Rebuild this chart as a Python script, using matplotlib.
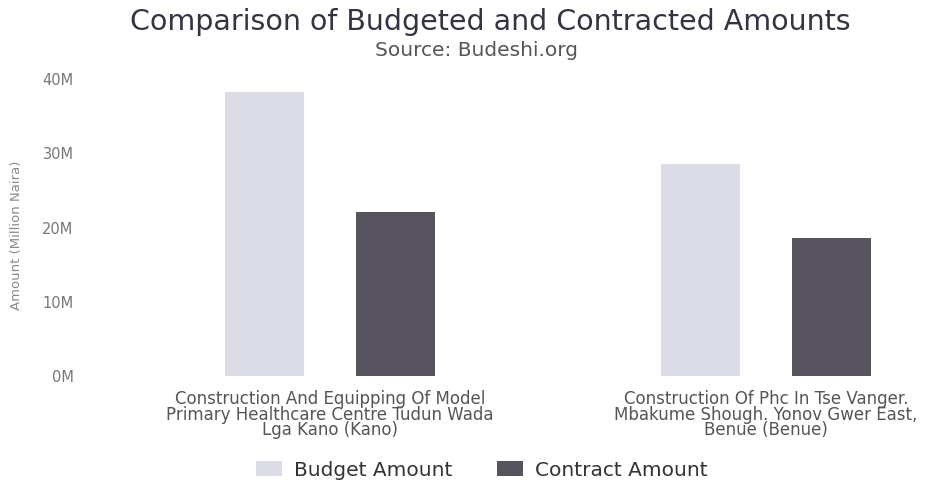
import matplotlib
matplotlib.use("Agg")
import matplotlib.pyplot as plt
from matplotlib.ticker import FuncFormatter
import numpy as np

plt.rcParams["font.family"] = ["DejaVu Sans"]

categories = [
    "Construction And Equipping Of Model\nPrimary Healthcare Centre Tudun Wada\nLga Kano (Kano)",
    "Construction Of Phc In Tse Vanger.\nMbakume Shough. Yonov Gwer East,\nBenue (Benue)",
]
budget = [38.2, 28.6]      # million naira
contract = [22.1, 18.6]    # million naira
series_names = ["Budget Amount", "Contract Amount"]
yticks = [0, 10, 20, 30, 40]

budget_color = "#dcdce6"
contract_color = "#57545f"

fig = plt.figure(figsize=(9.36, 4.82), dpi=100)
W, H = 936, 482
ax = fig.add_axes([100 / W, 1 - 376 / H, 820 / W, (376 - 79) / H])

x = np.arange(len(categories))
bw = 0.18
off = 0.15
ax.bar(x - off, budget, width=bw, color=budget_color, label=series_names[0])
ax.bar(x + off, contract, width=bw, color=contract_color, label=series_names[1])

ax.set_ylim(0, 40)
ax.set_xlim(-(330 - 100) / 436, 1 + (920 - 766) / 436)
ax.set_yticks(yticks)
ax.yaxis.set_major_formatter(FuncFormatter(lambda v, p: f"{int(v)}M"))
ax.set_xticks(x)
ax.set_xticklabels(categories, fontsize=12, color="#555555", linespacing=0.84)
ax.tick_params(axis="y", labelsize=10.5, labelcolor="#777777", length=0, pad=19)
ax.tick_params(axis="x", length=0, pad=10)
for s in ax.spines.values():
    s.set_visible(False)

ax.set_ylabel("Amount (Million Naira)", fontsize=9.5, color="#8a8a8a")
ax.yaxis.set_label_coords(-77 / 820, 0.475)

fig.text(490 / W, 1 - 22 / H, "Comparison of Budgeted and Contracted Amounts",
         ha="center", va="center", fontsize=20.5, color="#333344")
fig.text(477 / W, 1 - 50 / H, "Source: Budeshi.org",
         ha="center", va="center", fontsize=14.5, color="#555555")

leg = fig.legend(loc="center", bbox_to_anchor=(482 / W, 1 - 470 / H), ncol=2,
                 frameon=False, fontsize=14.5, handlelength=1.3, handleheight=0.75,
                 columnspacing=2.2, handletextpad=0.6)
for t in leg.get_texts():
    t.set_color("#333333")

fig.savefig("out.png", dpi=100)
